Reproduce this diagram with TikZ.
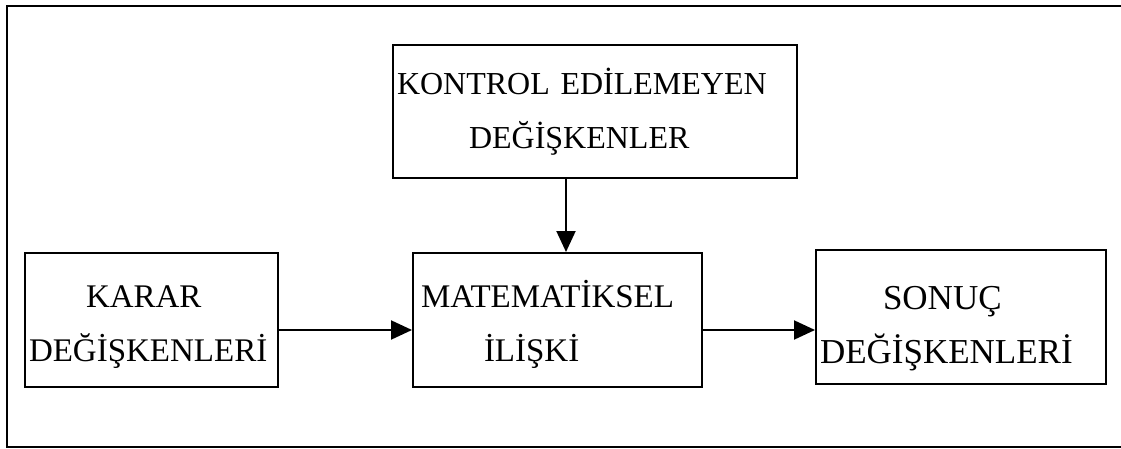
\documentclass[tikz,border=0pt]{standalone}
\usepackage{fontspec}
\setmainfont{Liberation Serif}
\usetikzlibrary{arrows.meta}

\tikzset{
  kutu/.style={draw, line width=2pt, inner xsep=4pt, inner ysep=0pt, align=left, anchor=north west},
  yazi/.style={font=\fontsize{#1}{54}\selectfont},
  ust/.style={execute at begin node={\rule{0pt}{#1}}},
  ok/.style={line width=2pt, -{Triangle[length=21pt, width=19pt]}}
}

\begin{document}
\begin{tikzpicture}[x=1pt, y=-1pt]
  \useasboundingbox (0,0) rectangle (1121,449);

  % Frame (open on the right)
  \draw[line width=2pt] (1121,6) -- (7,6) -- (7,447) -- (1121,447);

  % Uncontrolled variables
  \node[kutu, yazi=32, text width=396pt, minimum height=133pt] (kontrol) at (392,44) {
    KONTROL EDİLEMEYEN\\
    \hspace*{72pt}DEĞİŞKENLER
  };

  % Decision variables
  \node[kutu, yazi=33, ust=36pt, text width=245pt, minimum height=134pt] (karar) at (24,252) {
    \hspace*{57pt}KARAR\\
    DEĞİŞKENLERİ
  };

  % Mathematical relation
  \node[kutu, yazi=33, ust=36pt, text width=281pt, minimum height=134pt] (mat) at (412,252) {
    \hspace*{4pt}MATEMATİKSEL\\
    \hspace*{67pt}İLİŞKİ
  };

  % Outcome variables
  \node[kutu, yazi=35, ust=46pt, text width=282pt, minimum height=134pt] (sonuc) at (815,249) {
    \hspace*{63pt}SONUÇ\\
    DEĞİŞKENLERİ
  };

  % Connectors
  \coordinate (k1) at ([xshift=-29pt]kontrol.south);
  \coordinate (m1) at ([yshift=-10pt]karar.east);
  \coordinate (m2) at ([yshift=-10pt]mat.east);
  \draw[ok] (k1) -- (k1 |- mat.north);
  \draw[ok] (m1) -- (m1 -| mat.west);
  \draw[ok] (m2) -- (m2 -| sonuc.west);
\end{tikzpicture}
\end{document}
